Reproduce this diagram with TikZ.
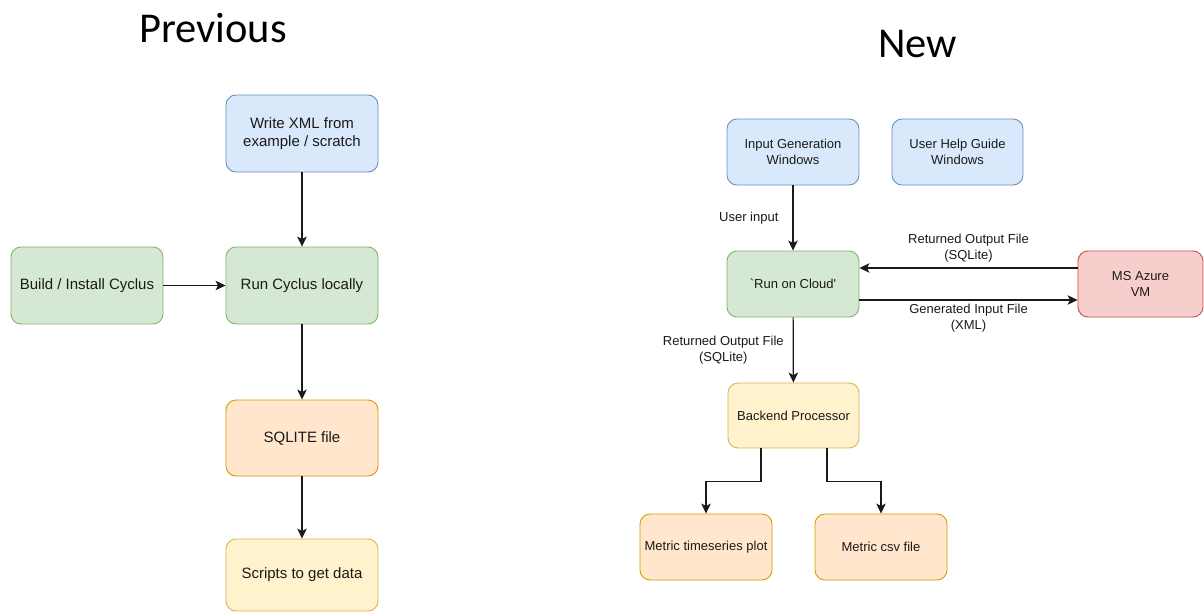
\documentclass[tikz,border=0pt]{standalone}
\usepackage{fontspec}
\setmainfont{Liberation Sans}
\newfontfamily\titlefont{Carlito}
\newfontfamily\rawsans{Liberation Sans}[Ligatures=TeXOff]
\usetikzlibrary{arrows.meta,calc}
\definecolor{blueF}{HTML}{DAE8FC}\definecolor{blueD}{HTML}{6C8EBF}
\definecolor{greenF}{HTML}{D5E8D4}\definecolor{greenD}{HTML}{82B366}
\definecolor{orangeF}{HTML}{FFE6CC}\definecolor{orangeD}{HTML}{D79B00}
\definecolor{yellowF}{HTML}{FFF2CC}\definecolor{yellowD}{HTML}{D6B656}
\definecolor{redF}{HTML}{F8CECC}\definecolor{redD}{HTML}{B85450}
\definecolor{txt}{HTML}{1A1A1A}
\definecolor{lineC}{HTML}{1A1A1A}
\begin{document}
\begin{tikzpicture}[x=1pt,y=-1pt,
  box/.style={draw, rounded corners=10pt, line width=0.9pt, align=center, inner sep=0pt, text=txt},
  lbox/.style={box, minimum width=152pt, minimum height=77pt, font=\fontsize{15}{18}\selectfont},
  rbox/.style={box, minimum width=132pt, minimum height=66pt, font=\fontsize{13}{16.5}\selectfont},
  bluebox/.style={fill=blueF, draw=blueD},
  greenbox/.style={fill=greenF, draw=greenD},
  orangebox/.style={fill=orangeF, draw=orangeD},
  yellowbox/.style={fill=yellowF, draw=yellowD},
  redbox/.style={fill=redF, draw=redD},
  arr/.style={-{Stealth[length=10pt,width=9.5pt,inset=2.5pt]}, line width=1.2pt, draw=lineC},
  lbl/.style={font=\fontsize{13}{16.5}\selectfont, align=center, inner sep=0pt, text=txt},
  ttl/.style={anchor=base, font=\titlefont\fontsize{42.5}{44}\selectfont, text=black}]
\useasboundingbox (0,0) rectangle (1204,613);
\fill[white] (0,0) rectangle (1204,613);

% Titles
\node[ttl] (tprev) at (213,42) {Previous};
\node[ttl] (tnew) at (917.5,57) {New};

% Previous
\node[lbox, bluebox] (wxml) at (302,133.5) {Write XML from\\example / scratch};
\node[lbox, greenbox] (build) at (87,285.5) {Build / Install Cyclus};
\node[lbox, greenbox] (run) at (302,285.5) {Run Cyclus locally};
\node[lbox, orangebox, minimum height=76pt] (sqlite) at (302,438) {SQLITE file};
\node[lbox, yellowbox, minimum height=72pt] (scripts) at (302,575) {Scripts to get data};

\draw[arr] (wxml) -- (run);
\draw[arr] (build) -- (run);
\draw[arr] (run) -- (sqlite);
\draw[arr] (sqlite) -- (scripts);

% New
\node[rbox, bluebox] (inputgen) at (793,152) {Input Generation\\Windows};
\node[rbox, bluebox, minimum width=131pt] (help) at (957.5,152) {User Help Guide\\Windows};
\node[rbox, greenbox, font=\rawsans\fontsize{13}{16.5}\selectfont] (cloud) at (793,284) {`Run on Cloud'};
\node[rbox, redbox, minimum width=125pt] (azure) at (1140.5,284) {MS Azure\\VM};
\node[rbox, yellowbox, minimum width=131pt, minimum height=65pt] (backend) at (793.5,415.5) {Backend Processor};
\node[rbox, orangebox] (ts) at (706,547) {Metric timeseries plot};
\node[rbox, orangebox] (csv) at (881,547) {Metric csv file};

\draw[arr] (inputgen) -- node[lbl, left=14pt] {User input} (cloud);
\draw[arr] ([yshift=16pt]azure.west) -- node[lbl, above=5pt] {Returned Output File\\(SQLite)} ([yshift=16pt]cloud.east);
\draw[arr] ([yshift=-16pt]cloud.east) -- node[lbl, below=3pt] {Generated Input File\\(XML)} ([yshift=-16pt]azure.west);
\draw[arr] (cloud) -- node[lbl, left=9pt] {Returned Output File\\(SQLite)} (backend);
\draw[arr] ([xshift=-32.5pt]backend.south) -- ++(0,33) -| (ts.north);
\draw[arr] ([xshift=33.5pt]backend.south) -- ++(0,33) -| (csv.north);
\end{tikzpicture}
\end{document}
